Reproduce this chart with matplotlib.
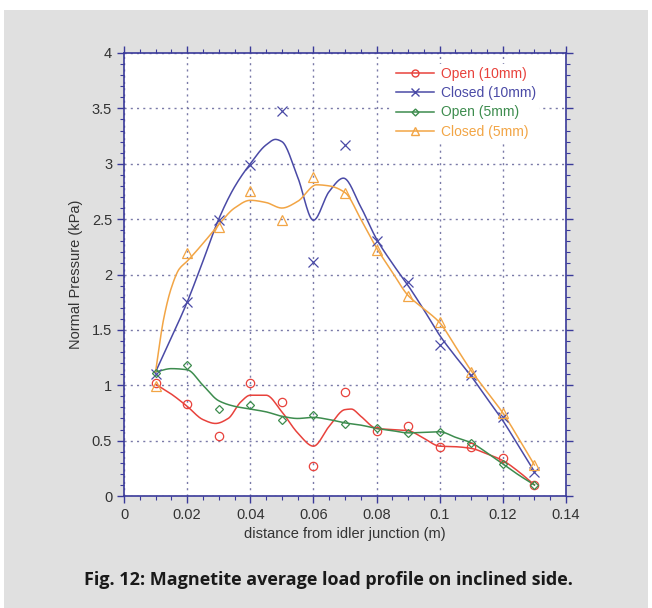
import numpy as np
import matplotlib
matplotlib.use("Agg")
import matplotlib.pyplot as plt
from matplotlib.patches import Rectangle
from matplotlib.ticker import MultipleLocator

# ---- data ----
x_pts = [0.01, 0.02, 0.03, 0.04, 0.05, 0.06, 0.07, 0.08, 0.09, 0.10, 0.11, 0.12, 0.13]
open10 = [1.02, 0.83, 0.54, 1.02, 0.85, 0.27, 0.94, 0.59, 0.63, 0.44, 0.44, 0.34, 0.10]
closed10 = [1.10, 1.75, 2.49, 2.99, 3.48, 2.11, 3.17, 2.30, 1.93, 1.36, 1.09, 0.71, 0.22]
open5 = [1.11, 1.18, 0.79, 0.82, 0.69, 0.73, 0.65, 0.61, 0.57, 0.58, 0.48, 0.29, 0.10]
closed5 = [0.99, 2.19, 2.43, 2.75, 2.49, 2.88, 2.74, 2.22, 1.81, 1.57, 1.12, 0.75, 0.28]

# smoothed fit curves as drawn in the reference (ordinates)
open10_cx = [0.010, 0.015, 0.020, 0.025, 0.029, 0.033, 0.037, 0.040, 0.045, 0.050, 0.055,
             0.060, 0.065, 0.070, 0.072, 0.075, 0.080, 0.085, 0.090, 0.095, 0.100, 0.105,
             0.110, 0.115, 0.120, 0.125, 0.130]
open10_cy = [1.01, 0.92, 0.81, 0.69, 0.655, 0.70, 0.85, 0.91, 0.91, 0.76, 0.57,
             0.45, 0.63, 0.78, 0.785, 0.72, 0.61, 0.60, 0.59, 0.52, 0.45, 0.445,
             0.43, 0.38, 0.32, 0.22, 0.10]

closed10_cx = [0.010, 0.015, 0.020, 0.025, 0.030, 0.035, 0.040, 0.045, 0.048, 0.050, 0.055,
               0.060, 0.065, 0.0695, 0.075, 0.080, 0.085, 0.090, 0.095, 0.100, 0.105, 0.110,
               0.115, 0.120, 0.125, 0.130]
closed10_cy = [1.12, 1.43, 1.75, 2.12, 2.50, 2.79, 3.00, 3.17, 3.22, 3.20, 2.88,
               2.49, 2.75, 2.87, 2.61, 2.32, 2.10, 1.90, 1.68, 1.45, 1.26, 1.08,
               0.88, 0.68, 0.45, 0.22]

open5_cx = [0.010, 0.015, 0.020, 0.025, 0.030, 0.035, 0.040, 0.045, 0.050, 0.055, 0.060,
            0.065, 0.070, 0.075, 0.080, 0.085, 0.090, 0.095, 0.100, 0.105, 0.110, 0.115,
            0.120, 0.125, 0.130]
open5_cy = [1.12, 1.15, 1.14, 1.00, 0.86, 0.81, 0.785, 0.76, 0.72, 0.70, 0.71,
            0.69, 0.66, 0.64, 0.61, 0.59, 0.57, 0.575, 0.58, 0.53, 0.48, 0.39,
            0.29, 0.19, 0.10]

closed5_cx = [0.010, 0.0125, 0.015, 0.0175, 0.020, 0.025, 0.030, 0.035, 0.040, 0.045, 0.050,
              0.055, 0.061, 0.065, 0.070, 0.075, 0.080, 0.085, 0.090, 0.095, 0.100, 0.105,
              0.110, 0.115, 0.120, 0.125, 0.130]
closed5_cy = [1.12, 1.59, 1.88, 2.05, 2.12, 2.28, 2.45, 2.60, 2.67, 2.65, 2.60,
              2.66, 2.81, 2.80, 2.74, 2.50, 2.24, 2.02, 1.81, 1.69, 1.565, 1.35,
              1.13, 0.94, 0.75, 0.52, 0.28]

labels = ["Open (10mm)", "Closed (10mm)", "Open (5mm)", "Closed (5mm)"]
x_ticks = [0, 0.02, 0.04, 0.06, 0.08, 0.1, 0.12, 0.14]
x_tick_labels = ["0", "0.02", "0.04", "0.06", "0.08", "0.1", "0.12", "0.14"]
y_ticks = [0, 0.5, 1, 1.5, 2, 2.5, 3, 3.5, 4]
y_tick_labels = ["0", "0.5", "1", "1.5", "2", "2.5", "3", "3.5", "4"]
caption = "Fig. 12: Magnetite average load profile on inclined side."


def pchip(x, y, xn):
    x = np.asarray(x, float)
    y = np.asarray(y, float)
    h = np.diff(x)
    d = np.diff(y) / h
    n = len(x)
    m = np.zeros(n)
    for k in range(1, n - 1):
        if d[k - 1] * d[k] <= 0:
            m[k] = 0.0
        else:
            w1 = 2 * h[k] + h[k - 1]
            w2 = h[k] + 2 * h[k - 1]
            m[k] = (w1 + w2) / (w1 / d[k - 1] + w2 / d[k])
    m[0] = d[0]
    m[-1] = d[-1]
    idx = np.clip(np.searchsorted(x, xn) - 1, 0, n - 2)
    t = (xn - x[idx]) / h[idx]
    h00 = 2 * t**3 - 3 * t**2 + 1
    h10 = t**3 - 2 * t**2 + t
    h01 = -2 * t**3 + 3 * t**2
    h11 = t**3 - t**2
    return h00 * y[idx] + h10 * h[idx] * m[idx] + h01 * y[idx + 1] + h11 * h[idx] * m[idx + 1]


plt.rcParams['font.family'] = ['Liberation Sans', 'DejaVu Sans']

fig = plt.figure(figsize=(6.52, 6.08), dpi=100)
fig.patch.set_facecolor('white')
fig.patches.append(Rectangle((4 / 652, 0), 644 / 652, 598 / 608, transform=fig.transFigure,
                             facecolor='#e0e0e0', edgecolor='none', zorder=-10))

ax = fig.add_axes([124 / 652, 112 / 608, 442 / 652, 443 / 608])
ax.set_facecolor('white')

colors = ['#e8423c', '#4a4aa6', '#3d8c4e', '#f2a545']
markers = ['o', 'x', 'D', '^']
msizes = [6, 7, 4.5, 6.5]
series = [open10, closed10, open5, closed5]
curves = [(open10_cx, open10_cy), (closed10_cx, closed10_cy),
          (open5_cx, open5_cy), (closed5_cx, closed5_cy)]

for ser, (cx, cy), c, mk, ms, lab in zip(series, curves, colors, markers, msizes, labels):
    xs = np.linspace(cx[0], cx[-1], 400)
    ax.plot(xs, pchip(cx, cy, xs), color=c, lw=1.1, zorder=3)
    ax.plot(x_pts, ser, linestyle='none', marker=mk, markersize=ms,
            markerfacecolor='none', markeredgecolor=c, markeredgewidth=0.9, zorder=4)
    ax.plot([], [], color=c, lw=1.1, marker=mk, markersize=ms - 1,
            markerfacecolor='none', markeredgecolor=c, label=lab)

ax.set_xlim(0, 0.14)
ax.set_ylim(0, 4)
ax.set_xticks(x_ticks)
ax.set_xticklabels(x_tick_labels)
ax.set_yticks(y_ticks)
ax.set_yticklabels(y_tick_labels)
ax.xaxis.set_minor_locator(MultipleLocator(0.005))
ax.yaxis.set_minor_locator(MultipleLocator(0.1))
spine_c = '#3a3a9a'
for s in ax.spines.values():
    s.set_color(spine_c)
    s.set_linewidth(1.2)
ax.tick_params(which='both', direction='out', color=spine_c, top=True, right=True,
               labelsize=10.5, labelcolor='#333333')
ax.tick_params(which='major', length=5, width=1)
ax.tick_params(which='minor', length=3, width=0.8)
ax.grid(True, which='major', linestyle=(0, (1.5, 3)), color='#7a7aa8', linewidth=1.0, zorder=1)
ax.set_axisbelow(True)

ax.set_xlabel("distance from idler junction (m)", fontsize=10.5, color='#333333', labelpad=4)
ax.set_ylabel("Normal Pressure (kPa)", fontsize=10.5, color='#333333', labelpad=6)

leg = ax.legend(loc='upper right', bbox_to_anchor=(0.938, 0.975), frameon=True,
                fontsize=10, handlelength=2.8, handletextpad=0.45, labelspacing=0.38,
                borderaxespad=0, borderpad=0.2)
leg.get_frame().set_facecolor('white')
leg.get_frame().set_edgecolor('none')
leg.get_frame().set_alpha(1.0)
leg.set_zorder(5)
for txt, c in zip(leg.get_texts(), colors):
    txt.set_color(c)

fig.text(328 / 652, 1 - 580 / 608, caption, ha='center', va='center',
         fontsize=13, fontweight='bold', family=['Open Sans', 'DejaVu Sans'], color='#1a1a1a')

fig.savefig('out.png', dpi=100, facecolor='white')
